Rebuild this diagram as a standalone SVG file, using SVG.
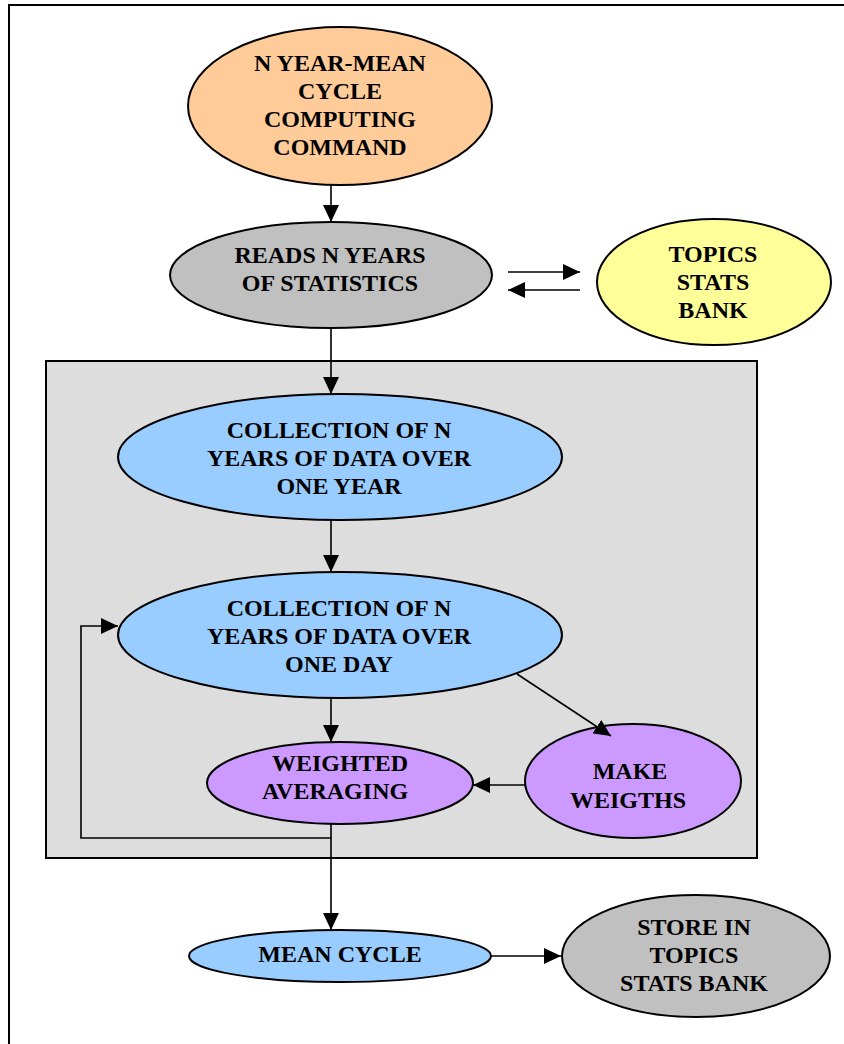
<svg xmlns="http://www.w3.org/2000/svg" width="844" height="1044" viewBox="0 0 844 1044">
  <style>
    .node { stroke: #000; stroke-width: 2; }
    .lbl { font-family: "Liberation Serif", "Times New Roman", serif; font-weight: bold; font-size: 24px; text-anchor: middle; fill: #000; }
    .edge { stroke: #000; stroke-width: 1.6; fill: none; }
  </style>
  <defs>
    <marker id="arrow" viewBox="0 0 17 16" refX="17" refY="8" markerWidth="17" markerHeight="16" markerUnits="userSpaceOnUse" orient="auto">
      <path d="M0,0 L17,8 L0,16 Z" fill="#000"/>
    </marker>
  </defs>
  <rect width="844" height="1044" fill="#fff"/>
  <!-- page frame -->
  <path d="M9,1044 V5 H844" stroke="#000" stroke-width="2" fill="none"/>

  <!-- processing frame -->
  <rect id="frame" x="46" y="361" width="711" height="497" fill="#DDDDDD" stroke="#000" stroke-width="2"/>

  <g id="cmd">
    <ellipse class="node" cx="340" cy="106" rx="152" ry="79" fill="#FFCC99"/>
    <text class="lbl" x="340" y="71">N YEAR-MEAN</text>
    <text class="lbl" x="340" y="99">CYCLE</text>
    <text class="lbl" x="340" y="127">COMPUTING</text>
    <text class="lbl" x="340" y="155">COMMAND</text>
  </g>

  <g id="reads">
    <ellipse class="node" cx="331" cy="275" rx="161" ry="53" fill="#C0C0C0"/>
    <text class="lbl" x="330" y="263">READS N YEARS</text>
    <text class="lbl" x="330" y="291">OF STATISTICS</text>
  </g>

  <g id="bank">
    <ellipse class="node" cx="714" cy="282" rx="117" ry="63" fill="#FFFF99"/>
    <text class="lbl" x="713" y="262">TOPICS</text>
    <text class="lbl" x="713" y="290">STATS</text>
    <text class="lbl" x="713" y="318">BANK</text>
  </g>

  <g id="year">
    <ellipse class="node" cx="340" cy="457" rx="222" ry="63" fill="#99CCFF"/>
    <text class="lbl" x="339" y="438">COLLECTION OF N</text>
    <text class="lbl" x="339" y="466">YEARS OF DATA OVER</text>
    <text class="lbl" x="339" y="494">ONE YEAR</text>
  </g>

  <g id="day">
    <ellipse class="node" cx="340" cy="635" rx="222" ry="63" fill="#99CCFF"/>
    <text class="lbl" x="339" y="616">COLLECTION OF N</text>
    <text class="lbl" x="339" y="644">YEARS OF DATA OVER</text>
    <text class="lbl" x="339" y="672">ONE DAY</text>
  </g>

  <g id="avg">
    <ellipse class="node" cx="340" cy="783" rx="133" ry="41" fill="#CC99FF"/>
    <text class="lbl" x="340" y="771">WEIGHTED</text>
    <text class="lbl" x="335" y="799">AVERAGING</text>
  </g>

  <g id="weights">
    <ellipse class="node" cx="633" cy="781" rx="108" ry="57" fill="#CC99FF"/>
    <text class="lbl" x="630" y="779">MAKE</text>
    <text class="lbl" x="628" y="808">WEIGTHS</text>
  </g>

  <g id="mean">
    <ellipse class="node" cx="340" cy="956" rx="151" ry="26" fill="#99CCFF"/>
    <text class="lbl" x="340" y="962">MEAN CYCLE</text>
  </g>

  <g id="store">
    <ellipse class="node" cx="696" cy="956" rx="134" ry="61" fill="#C0C0C0"/>
    <text class="lbl" x="694" y="935">STORE IN</text>
    <text class="lbl" x="694" y="963">TOPICS</text>
    <text class="lbl" x="694" y="991">STATS BANK</text>
  </g>

  <g id="connectors">
    <line class="edge" x1="331" y1="185" x2="331" y2="222" marker-end="url(#arrow)"/>
    <line class="edge" x1="508" y1="272" x2="580" y2="272" marker-end="url(#arrow)"/>
    <line class="edge" x1="580" y1="290" x2="508" y2="290" marker-end="url(#arrow)"/>
    <line class="edge" x1="331" y1="328" x2="331" y2="394" marker-end="url(#arrow)"/>
    <line class="edge" x1="331" y1="520" x2="331" y2="572" marker-end="url(#arrow)"/>
    <line class="edge" x1="331" y1="698" x2="331" y2="742" marker-end="url(#arrow)"/>
    <line class="edge" x1="517" y1="674" x2="611" y2="736" marker-end="url(#arrow)"/>
    <line class="edge" x1="525" y1="785" x2="473" y2="785" marker-end="url(#arrow)"/>
    <polyline class="edge" points="331,824 331,838 81,838 81,626 118,626" marker-end="url(#arrow)"/>
    <line class="edge" x1="331" y1="838" x2="331" y2="930" marker-end="url(#arrow)"/>
    <line class="edge" x1="491" y1="956" x2="561" y2="956" marker-end="url(#arrow)"/>
  </g>
</svg>
